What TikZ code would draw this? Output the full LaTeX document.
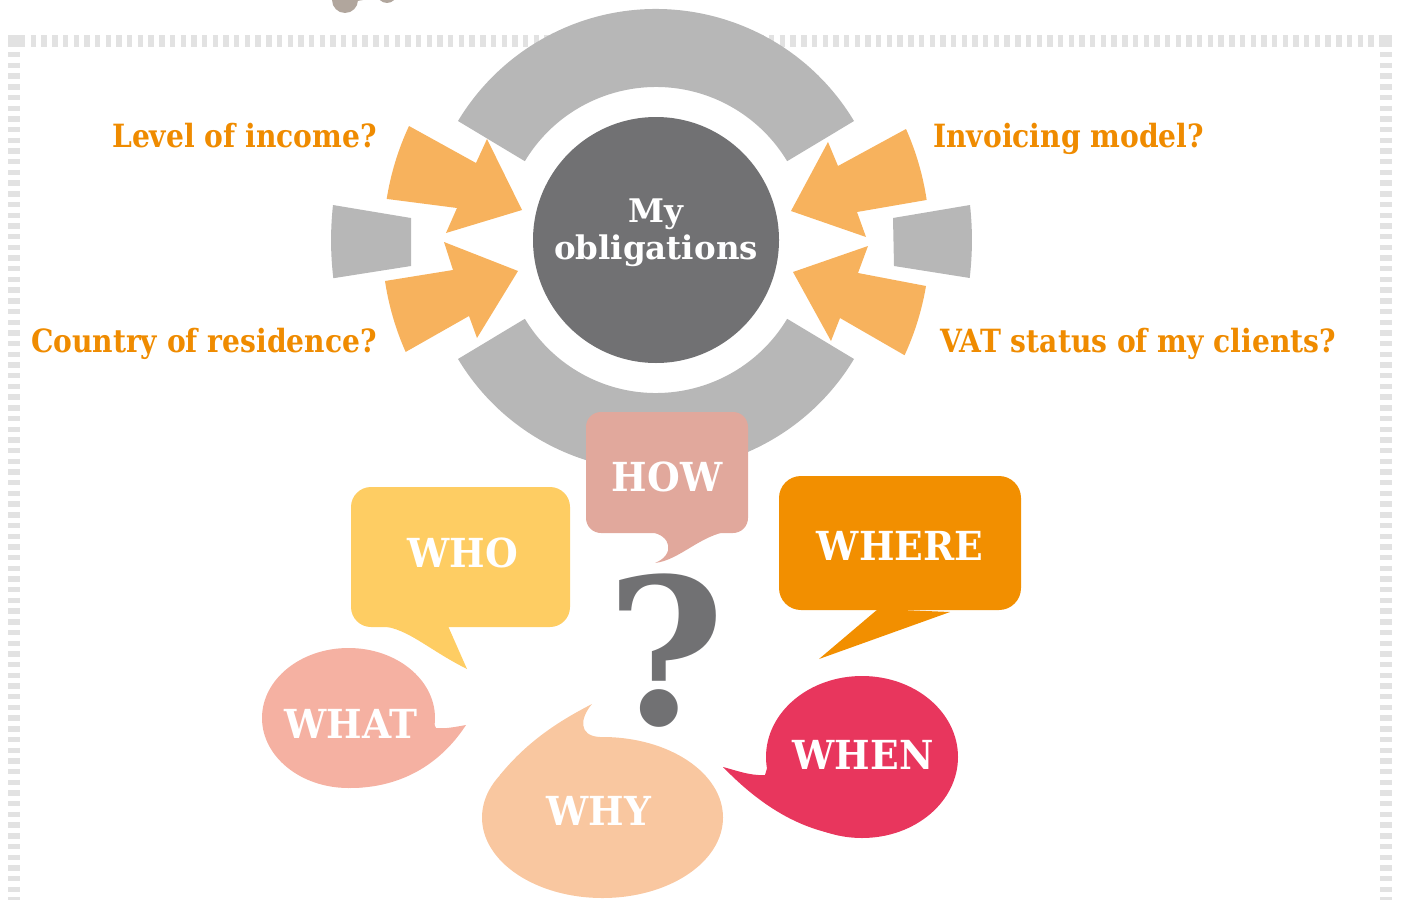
\documentclass[tikz,border=0pt]{standalone}
\usepackage{fontspec}
\setmainfont{DejaVu Serif}
\newfontfamily\narrowserif{DejaVu Serif}[FakeStretch=0.88]
\newfontfamily\wordserif{DejaVu Serif}[FakeStretch=0.94]
\definecolor{bordergray}{RGB}{226, 226, 226}
\definecolor{ringgray}{RGB}{183, 183, 183}
\definecolor{darkgray}{RGB}{113, 113, 115}
\definecolor{arroworange}{RGB}{247, 178, 93}
\definecolor{labelorange}{RGB}{239, 139, 0}
\definecolor{whocol}{RGB}{254, 205, 99}
\definecolor{howcol}{RGB}{225, 168, 156}
\definecolor{wherecol}{RGB}{242, 143, 0}
\definecolor{whatcol}{RGB}{245, 177, 162}
\definecolor{whycol}{RGB}{249, 199, 160}
\definecolor{whencol}{RGB}{232, 54, 93}
\definecolor{decocol}{RGB}{177, 166, 157}

\begin{document}
\begin{tikzpicture}[x=1pt, y=1pt,
    every node/.style={inner sep=0pt, font=\bfseries},
    ringpart/.style={fill=ringgray},
    inarrow/.style={fill=arroworange},
    question/.style={text=labelorange, font=\narrowserif\bfseries\fontsize{32}{38}\selectfont},
    bubbleword/.style={text=white, font=\wordserif\bfseries\fontsize{40}{46}\selectfont},
    dashline/.style={draw=bordergray, line width=12pt, dash pattern=on 5.4pt off 5.3pt}
]
\useasboundingbox (0,0) rectangle (1402,-899);

% frame
\draw[dashline] (20,-41) -- (1380,-41);
\draw[dashline] (14,-52) -- (14,-905);
\draw[dashline] (1386,-52) -- (1386,-905);
\fill[bordergray] (8,-35) rectangle (20,-47);
\fill[bordergray] (1380,-35) rectangle (1392,-47);

% icon cut off at the top
\draw[decocol, line width=6pt] (345,0) -- (387,7);
\fill[decocol] (345,0) circle (13);
\fill[decocol] (387,7) circle (10);

% ring
\coordinate (c) at (656,-240);
\begin{scope}[shift={(c)}]
\fill[ringpart] (31:231) arc[start angle=31, end angle=149, radius=231] -- (149:153) arc[start angle=149, end angle=31, radius=153] -- cycle;
\fill[ringpart] (211:231) arc[start angle=211, end angle=329, radius=231] -- (329:153) arc[start angle=329, end angle=211, radius=153] -- cycle;
\end{scope}
\fill[ringpart] (411,-218) -- (333,-205) arc[start angle=173.7, end angle=186.8, radius=321] -- (411,-266) -- cycle;
\fill[ringpart] (893,-218) -- (970,-205) arc[start angle=6.3, end angle=-6.8, radius=320] -- (894,-266) -- cycle;

% arrows
\fill[inarrow] (409,-126) arc[start angle=155, end angle=171, radius=274] -- (457,-208) -- (446,-233) -- (522,-210) -- (487,-139) -- (476,-163) -- cycle;
\fill[inarrow] (385,-281) arc[start angle=188.5, end angle=204, radius=274] -- (469,-316) -- (477,-338) -- (518,-271) -- (444,-242) -- (453,-270) -- cycle;
\fill[inarrow] (906,-129) arc[start angle=24, end angle=8.5, radius=274] -- (857,-212) -- (866,-237) -- (791,-211) -- (828,-142) -- (838,-166) -- cycle;
\fill[inarrow] (926,-286) arc[start angle=-9.6, end angle=-24.8, radius=274] -- (840,-318) -- (831,-341) -- (793,-272) -- (868,-246) -- (858,-273) -- cycle;

\fill[darkgray] (c) circle (123);
\node[text=white, align=center, font=\bfseries\fontsize{32.5}{37}\selectfont] (obligations) at (656,-233) {My\\obligations};

\node[question, anchor=base east] (income) at (377,-147) {Level of income?};
\node[question, anchor=base east] (residence) at (377,-352) {Country of residence?};
\node[question, anchor=base west] (invoicing) at (933,-147) {Invoicing model?};
\node[question, anchor=base west] (vatstatus) at (940,-352) {VAT status of my clients?};

% bubbles
\fill[whocol, rounded corners=20] (351,-487) rectangle (570,-627);
\fill[whocol] (375,-626) .. controls (405,-625) and (425,-648) .. (467,-669) -- (448,-626) -- cycle;
\fill[howcol, rounded corners=15] (586,-412) rectangle (748,-533);
\fill[howcol] (650,-532) .. controls (672,-535) and (675,-555) .. (655,-563) .. controls (680,-560) and (700,-535) .. (730,-531) -- cycle;
\fill[wherecol, rounded corners=22] (779,-476) rectangle (1021,-610);
\fill[wherecol] (878,-609) -- (819,-659) -- (950,-612) -- cycle;
\fill[whatcol] (348.5,-718) ellipse[x radius=86.5, y radius=70];
\fill[whatcol] (430,-715) -- (436,-728) .. controls (445,-729) and (455,-727) .. (466,-725) .. controls (440,-765) and (400,-788) .. (350,-788) -- cycle;
\fill[whycol] (602.5,-817.5) ellipse[x radius=120.5, y radius=80.5];
\fill[whycol] (600,-770) -- (500,-775) .. controls (530,-738) and (565,-718) .. (592,-704) .. controls (580,-718) and (578,-736) .. (600,-737) -- cycle;
\fill[whencol] (862,-757) ellipse[x radius=96, y radius=81];
\fill[whencol] (768,-765) -- (765,-775) .. controls (750,-776) and (735,-770) .. (723,-767) .. controls (755,-800) and (800,-835) .. (860,-837) -- cycle;

\node[text=darkgray, font=\bfseries\fontsize{203}{203}\selectfont] (qmark) at (666,-651) {?};

\node[bubbleword] (how) at (667,-477) {HOW};
\node[bubbleword] (who) at (463,-553) {WHO};
\node[bubbleword] (where) at (900,-546) {WHERE};
\node[bubbleword] (what) at (351,-724) {WHAT};
\node[bubbleword] (why) at (599,-811) {WHY};
\node[bubbleword] (when) at (863,-755) {WHEN};
\end{tikzpicture}
\end{document}
